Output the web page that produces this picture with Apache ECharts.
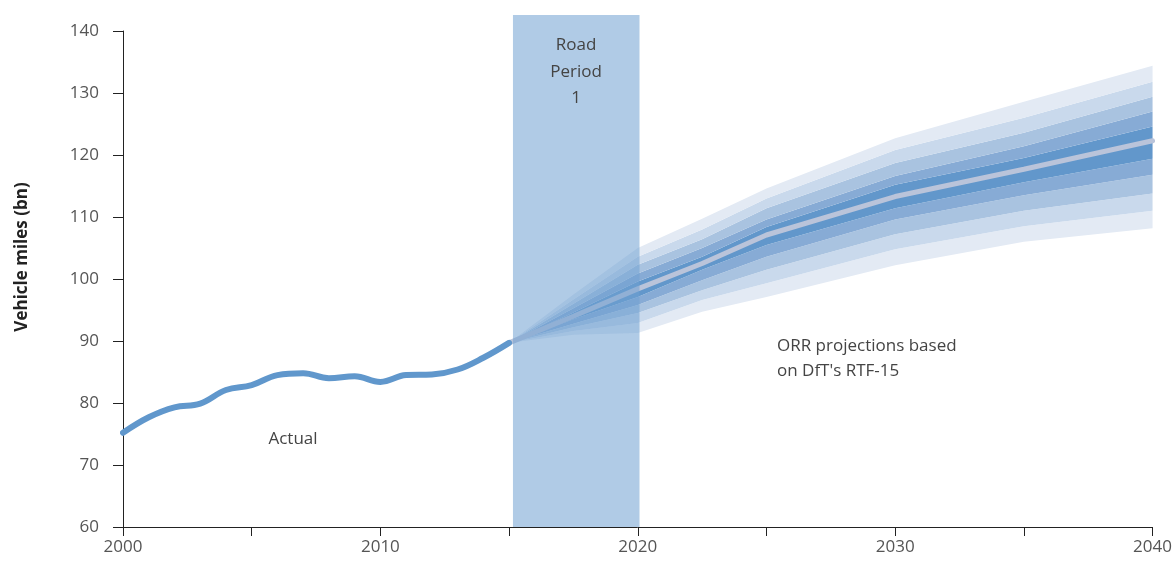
<!DOCTYPE html>
<html>
<head>
<meta charset="utf-8">
<script src="https://cdn.jsdelivr.net/npm/echarts@6/dist/echarts.min.js"></script>
<style>
html,body{margin:0;padding:0;background:#fff;}
#chartsObj{width:1175px;height:562px;}
</style>
</head>
<body>
<div id="chartsObj"></div>
<script>
// actual traffic, bn vehicle miles
var actualYears = [2000,2001,2002,2003,2004,2005,2006,2007,2008,2009,2010,2011,2012,2013,2014,2015];
var actualValues = [75.2,77.7,79.3,79.9,82.1,82.9,84.5,84.8,84.0,84.3,83.4,84.5,84.6,85.4,87.3,89.7];

// projection fan, edges from bottom to top
var projYears = [2015,2017.5,2020,2022.5,2025,2030,2035,2040];
var lower5 = [89.7,91.0,91.3,94.7,97.1,102.2,106.0,108.2];
var lower4 = [89.7,91.6,92.9,96.6,99.3,104.8,108.5,111.0];
var lower3 = [89.7,92.2,94.5,98.2,101.5,107.2,111.0,113.8];
var lower2 = [89.7,92.8,95.8,99.8,103.6,109.6,113.5,116.8];
var lower1 = [89.7,93.5,97.1,101.5,105.5,111.4,115.6,119.4];
var central = [89.7,94.0,98.4,102.5,107.1,113.3,117.7,122.3];
var upper1 = [89.7,94.6,99.6,103.6,108.4,115.2,119.5,124.6];
var upper2 = [89.7,95.3,100.9,105.0,109.6,116.6,121.4,127.0];
var upper3 = [89.7,96.0,102.3,106.4,111.4,118.7,123.6,129.4];
var upper4 = [89.7,96.7,103.6,108.0,113.0,120.8,126.0,131.8];
var upper5 = [89.7,97.5,105.0,109.7,114.6,122.7,128.6,134.4];

var roadPeriod = [2015.1, 2020];
var xTicks = [2000, 2010, 2020, 2030, 2040];

var edges = [lower5, lower4, lower3, lower2, lower1, central, upper1, upper2, upper3, upper4, upper5];
var bandColors = ['#e3eaf4','#c9d9ec','#a9c3e0','#87abd5','#6297cb','#6297cb','#87abd5','#a9c3e0','#c9d9ec','#e3eaf4'];

function pairs(xs, ys){
    return xs.map(function(x, i){ return [x, ys[i]]; });
}

// one polygon per band, drawn between two edges
function bandSeries(lo, hi, color){
    return {
        type: 'custom', xAxisIndex: 0, yAxisIndex: 0, silent: true, z: 2,
        data: projYears.map(function(x, i){ return [x, lo[i], hi[i]]; }),
        encode: {x: 0, y: [1, 2]},
        renderItem: function(params, api){
            if (params.dataIndex !== 0) return;
            var pts = [];
            for (var i = 0; i < projYears.length; i++) pts.push(api.coord([projYears[i], hi[i]]));
            for (var j = projYears.length - 1; j >= 0; j--) pts.push(api.coord([projYears[j], lo[j]]));
            return {type: 'polygon', shape: {points: pts}, style: {fill: color}};
        }
    };
}

var fanSeries = [];
for (var b = 0; b < bandColors.length; b++) {
    fanSeries.push(bandSeries(edges[b], edges[b + 1], bandColors[b]));
}

var labelFont = '"Open Sans", sans-serif';

var option = {
    animation: false,
    grid: [
        {left: 123, right: 19, top: 31, bottom: 35},
        {left: 123, right: 19, top: 15, bottom: 35}
    ],
    xAxis: [{
        type: 'value', gridIndex: 0, min: 2000, max: 2040, interval: 5,
        axisLine: {lineStyle: {color: '#222', width: 1}},
        axisTick: {show: true, length: 9, lineStyle: {color: '#222'}},
        splitLine: {show: false},
        axisLabel: {
            margin: 12, color: '#555', fontSize: 17, fontFamily: labelFont,
            formatter: function(v){ return xTicks.indexOf(v) >= 0 ? String(v) : ''; }
        }
    }, {
        type: 'value', gridIndex: 1, min: 2000, max: 2040, show: false
    }],
    yAxis: [{
        type: 'value', gridIndex: 0, min: 60, max: 140, interval: 10,
        name: 'Vehicle miles (bn)', nameLocation: 'middle', nameGap: 92,
        nameTextStyle: {fontSize: 17, fontWeight: 'bold', color: '#222', fontFamily: labelFont, padding: [0, 0, 0, 44]},
        axisLine: {show: true, lineStyle: {color: '#222', width: 1}},
        axisTick: {show: true, length: 10, lineStyle: {color: '#222'}},
        splitLine: {show: false},
        axisLabel: {margin: 24, color: '#555', fontSize: 17, fontFamily: labelFont}
    }, {
        type: 'value', gridIndex: 1, min: 0, max: 1, show: false
    }],
    series: fanSeries.concat([{
        name: 'Central',
        type: 'line', xAxisIndex: 0, yAxisIndex: 0,
        data: pairs(projYears, central),
        symbol: 'none',
        lineStyle: {color: '#bac4da', width: 5, cap: 'round'},
        silent: true, z: 3
    }, {
        name: 'Actual',
        type: 'line', xAxisIndex: 0, yAxisIndex: 0,
        data: pairs(actualYears, actualValues),
        smooth: 0.4, symbol: 'none',
        lineStyle: {color: '#6097cc', width: 6, cap: 'round'},
        silent: true, z: 3
    }, {
        // road period box, full height of the taller grid, laid over the lines
        name: 'Road Period 1',
        type: 'custom', xAxisIndex: 1, yAxisIndex: 1, silent: true, z: 6,
        data: [[roadPeriod[0], roadPeriod[1]]],
        renderItem: function(params, api){
            var p0 = api.coord([api.value(0), 1]);
            var p1 = api.coord([api.value(1), 0]);
            return {
                type: 'rect',
                shape: {x: p0[0], y: p0[1], width: p1[0] - p0[0], height: p1[1] - p0[1]},
                style: {fill: 'rgba(111,160,210,0.55)'}
            };
        }
    }]),
    graphic: [{
        type: 'text', x: 576, y: 32, z: 10,
        style: {text: 'Road\nPeriod\n1', fill: '#444', font: '17px ' + labelFont, lineHeight: 26.5, align: 'center'}
    }, {
        type: 'text', x: 293, y: 431, z: 10,
        style: {text: 'Actual', fill: '#444', font: '17px ' + labelFont, align: 'center'}
    }, {
        type: 'text', x: 777, y: 334, z: 10,
        style: {text: "ORR projections based\non DfT's RTF-15", fill: '#444', font: '17px ' + labelFont, lineHeight: 25}
    }]
};

var chart = echarts.init(document.getElementById('chartsObj'));
chart.setOption(option);
</script>
</body>
</html>
